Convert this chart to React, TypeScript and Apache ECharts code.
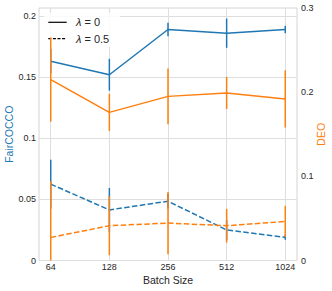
import React, { useEffect, useRef } from "react";
import * as echarts from "echarts";

const categories = ["64", "128", "256", "512", "1024"];
const fairLambda0 = [0.163, 0.152, 0.189, 0.186, 0.189];
const fairLambda0Err = [0.01, 0.013, 0.0055, 0.012, 0.003];
const deoLambda0 = [0.215, 0.176, 0.195, 0.199, 0.192];
const deoLambda0Err = [0.05, 0.022, 0.033, 0.019, 0.034];
const fairLambda05 = [0.0625, 0.0414, 0.0485, 0.025, 0.019];
const fairLambda05Err = [0.02, 0.018, 0.006, 0.008, 0.002];
const deoLambda05 = [0.0274, 0.0413, 0.0445, 0.0413, 0.0464];
const deoLambda05Err = [0.067, 0.035, 0.037, 0.02, 0.0185];
const leftTicks = [0, 0.05, 0.1, 0.15, 0.2];
const legendLabels = ["{i|λ} = 0", "{i|λ} = 0.5"];

const BLUE = "#1f77b4";
const ORANGE = "#ff7f0e";
const FONT = "Liberation Sans, Arial, sans-serif";
const TXT = "#262626";
const GRIDC = "#dedede";
const DASH = [5.5, 2.4];

function pts(vals: number[]) {
  return vals.map((v, i) => [i, v]);
}

function errSeries(vals: number[], errs: number[], color: string, yAxisIndex: number, z: number) {
  return {
    type: "custom",
    yAxisIndex,
    z,
    silent: true,
    data: vals.map((v, i) => [i, v - errs[i], v + errs[i]]),
    encode: { x: 0, y: [1, 2] },
    renderItem: (params: any, api: any) => {
      const x = api.value(0);
      const p1 = api.coord([x, api.value(1)]);
      const p2 = api.coord([x, api.value(2)]);
      const cs = params.coordSys;
      const clamp = (y: number) => Math.max(cs.y, Math.min(cs.y + cs.height, y));
      return {
        type: "line",
        shape: { x1: p1[0], y1: clamp(p1[1]), x2: p2[0], y2: clamp(p2[1]) },
        style: { stroke: color, lineWidth: 1.5 },
      };
    },
  };
}

export default function App() {
  const ref = useRef<HTMLDivElement>(null);
  useEffect(() => {
    const chart = echarts.init(ref.current!, null, { renderer: "svg" });
    const rich = { i: { fontStyle: "italic", fontSize: 11, fill: TXT, color: TXT, fontFamily: FONT } };
    chart.setOption({
      animation: false,
      grid: {
        left: 39,
        right: 35,
        top: 8,
        bottom: 30.5,
        containLabel: false,
        outerBoundsMode: "none",
        show: true,
        borderColor: "#d4d4d4",
        borderWidth: 1,
      },
      graphic: [
        {
          type: "rect",
          z: 1,
          silent: true,
          shape: { x: 44, y: 13, width: 76, height: 34 },
          style: { fill: "rgba(255,255,255,0.85)" },
        },
        {
          type: "line",
          z: 3,
          silent: true,
          shape: { x1: 48.3, y1: 22.3, x2: 66.7, y2: 22.3 },
          style: { stroke: "#000", lineWidth: 1.2 },
        },
        {
          type: "line",
          z: 3,
          silent: true,
          shape: { x1: 48.3, y1: 38.7, x2: 66.7, y2: 38.7 },
          style: { stroke: "#000", lineWidth: 1.2, lineDash: [3, 1.6] },
        },
        {
          type: "text",
          z: 3,
          silent: true,
          x: 76,
          y: 22.3,
          style: {
            text: legendLabels[0],
            rich,
            fontSize: 11,
            fontFamily: FONT,
            fill: TXT,
            verticalAlign: "middle",
          },
        },
        {
          type: "text",
          z: 3,
          silent: true,
          x: 76,
          y: 38.7,
          style: {
            text: legendLabels[1],
            rich,
            fontSize: 11,
            fontFamily: FONT,
            fill: TXT,
            verticalAlign: "middle",
          },
        },
      ],
      xAxis: {
        type: "value",
        min: -0.2,
        max: 4.2,
        name: "Batch Size",
        nameLocation: "middle",
        nameGap: 14,
        nameMoveOverlap: false,
        nameTextStyle: { fontSize: 10.5, color: TXT, fontFamily: FONT },
        axisLine: { show: false },
        axisTick: { show: false, customValues: [0, 1, 2, 3, 4] },
        axisLabel: {
          customValues: [0, 1, 2, 3, 4],
          formatter: (v: number) => categories[Math.round(v)] ?? "",
          fontSize: 9,
          color: TXT,
          fontFamily: FONT,
          margin: 2,
        },
        splitLine: { show: true, lineStyle: { color: GRIDC, width: 1 } },
      },
      yAxis: [
        {
          type: "value",
          min: 0,
          max: 0.2066,
          name: "FairCOCCO",
          nameLocation: "middle",
          nameRotate: 90,
          nameGap: 25,
          nameMoveOverlap: false,
          nameTextStyle: { fontSize: 10.5, color: BLUE, fontFamily: FONT },
          axisLine: { show: false },
          axisTick: { show: false, customValues: leftTicks },
          axisLabel: {
            customValues: leftTicks,
            fontSize: 9,
            color: TXT,
            fontFamily: FONT,
            margin: 3,
          },
          splitLine: { show: true, lineStyle: { color: GRIDC, width: 1 } },
        },
        {
          type: "value",
          min: 0,
          max: 0.3,
          interval: 0.1,
          name: "DEO",
          nameLocation: "middle",
          nameRotate: 90,
          nameGap: 18,
          nameMoveOverlap: false,
          nameTextStyle: { fontSize: 10.5, color: ORANGE, fontFamily: FONT },
          axisLine: { show: false },
          axisTick: { show: false },
          axisLabel: { fontSize: 9, color: TXT, fontFamily: FONT, margin: 4 },
          splitLine: { show: false },
        },
      ],
      series: [
        {
          type: "line",
          name: "fair0",
          yAxisIndex: 0,
          data: pts(fairLambda0),
          symbol: "none",
          z: 2,
          lineStyle: { color: BLUE, width: 1.5 },
        },
        errSeries(fairLambda0, fairLambda0Err, BLUE, 0, 2),
        {
          type: "line",
          name: "fair05",
          yAxisIndex: 0,
          data: pts(fairLambda05),
          symbol: "none",
          z: 2,
          lineStyle: { color: BLUE, width: 1.5, type: DASH },
        },
        errSeries(fairLambda05, fairLambda05Err, BLUE, 0, 2),
        {
          type: "line",
          name: "deo0",
          yAxisIndex: 1,
          data: pts(deoLambda0),
          symbol: "none",
          z: 6,
          lineStyle: { color: ORANGE, width: 1.5 },
        },
        errSeries(deoLambda0, deoLambda0Err, ORANGE, 1, 6),
        {
          type: "line",
          name: "deo05",
          yAxisIndex: 1,
          data: pts(deoLambda05),
          symbol: "none",
          z: 6,
          lineStyle: { color: ORANGE, width: 1.5, type: DASH },
        },
        errSeries(deoLambda05, deoLambda05Err, ORANGE, 1, 6),
      ],
    });
    return () => chart.dispose();
  }, []);
  return <div ref={ref} style={{ width: 332, height: 291, position: "absolute", left: 0, top: 0 }} />;
}
